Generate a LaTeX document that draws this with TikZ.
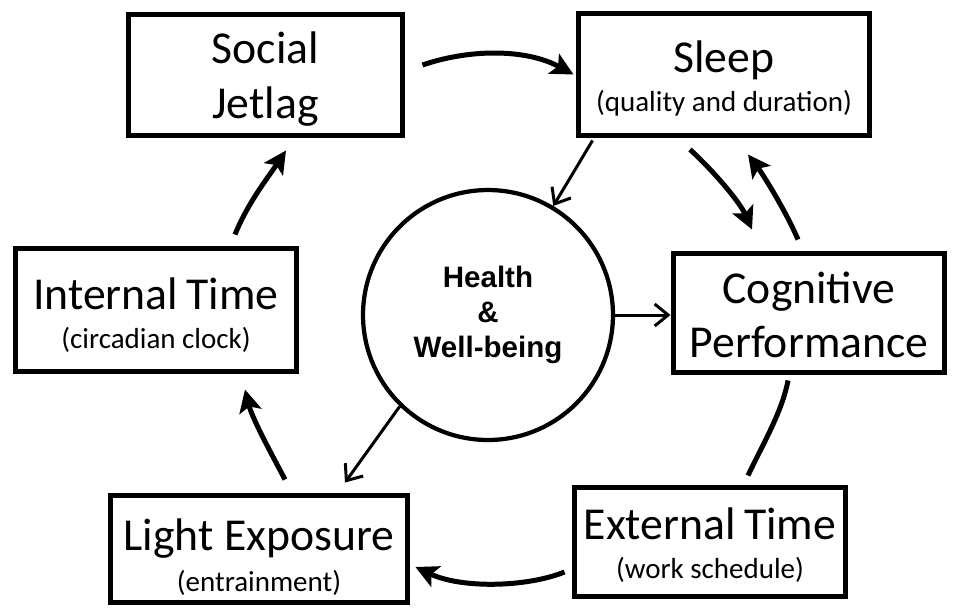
\documentclass[tikz,border=0pt]{standalone}
\usepackage{fontspec}
\setmainfont{Carlito}
\newfontfamily\hwfont{Liberation Sans}
\usetikzlibrary{arrows.meta,calc}

\tikzset{
  box/.style={draw, line width=0.1cm, rectangle, inner sep=0pt},
  boxtext/.style={align=center, inner sep=0pt, font=\fontsize{26}{31}\selectfont},
  hub/.style={draw, line width=0.085cm, circle, align=center, inner sep=0pt,
    minimum size=5cm, font=\hwfont\bfseries\fontsize{16.8}{20}\selectfont},
  bigarrow/.style={line width=0.1cm, -{Stealth[length=0.45cm,width=0.45cm,inset=0.1cm]}},
  thinarrow/.style={line width=0.06cm, -{Straight Barb[length=0.27cm,width=0.44cm]}},
  plainline/.style={line width=0.1cm},
}
\newcommand{\subtxt}[1]{{\fontsize{16.5}{20}\selectfont #1}}

\begin{document}
\begin{tikzpicture}[x=0.02cm, y=-0.02cm]
  \useasboundingbox (0,0) rectangle (954,609);

  % boxes around the cycle
  \node[box, minimum width=5.50cm, minimum height=2.44cm] (sj) at (265.5,75) {};
  \node[box, minimum width=5.84cm, minimum height=2.46cm] (sleep) at (724,74.5) {};
  \node[box, minimum width=5.64cm, minimum height=2.48cm] (it) at (156,310) {};
  \node[box, minimum width=5.44cm, minimum height=2.40cm] (cog) at (809,313) {};
  \node[box, minimum width=5.96cm, minimum height=2.16cm] (le) at (259,549) {};
  \node[box, minimum width=5.44cm, minimum height=2.20cm] (et) at (710,542) {};

  % their labels
  \node[boxtext] (sj-t) at ($(sj)+(0,4)$) {Social\\Jetlag};
  \node[boxtext] (sleep-t) at ($(sleep)+(0,4)$) {Sleep\\[-9pt]\subtxt{(quality and duration)}};
  \node[boxtext] (it-t) at ($(it)+(0,5)$) {Internal\kern-1pt\ Time\\[-9pt]\subtxt{(circadian clock)}};
  \node[boxtext] (cog-t) at ($(cog)+(0,2)$) {Cognitive\\Performance};
  \node[boxtext] (le-t) at ($(le)+(0,8)$) {Light Exposure\\[-8pt]\subtxt{(entrainment)}};
  \node[boxtext] (et-t) at ($(et)+(0,3)$) {External\kern-1pt\ Time\\[-9pt]\subtxt{(work schedule)}};

  % central hub
  \node[hub] (hw) at (488,315) {Health\\\&\\Well-being};

  % cycle arrows
  \draw[bigarrow] ($(sj.east)+(17,-10)$) .. controls +(50,-17) and +(-46,-25) .. ($(sleep.west)+(-2,0)$);
  \draw[bigarrow] ($(sleep.south)+(-34,11)$) .. controls +(25,23) and +(-12,-27) .. ($(cog.north)+(-57,-21)$);
  \draw[bigarrow] ($(cog.north)+(-11,-11)$) .. controls +(-13,-30) and +(15,20) .. ($(sleep.south)+(24,16)$);
  \draw[plainline] ($(cog.south)+(-21,5)$) .. controls +(-6,32) and +(14,-30) .. ($(et.north)+(38,-9)$);
  \draw[bigarrow] ($(et.west)+(-7,30)$) .. controls +(-37,15) and +(47,22) .. ($(le.east)+(5,18)$);
  \draw[bigarrow] ($(le.north)+(26,-13)$) .. controls +(-17,-32) and +(7,28) .. ($(it.south)+(89,15)$);
  \draw[bigarrow] ($(it.north)+(79,-11)$) .. controls +(13,-32) and +(-18,27) .. ($(sj.south)+(20.5,12)$);

  % links with the hub
  \draw[thinarrow] ($(sleep.south west)+(17,2)$) -- (hw);
  \draw[thinarrow] (hw.east) -- (hw.east -| cog.west);
  \draw[thinarrow] (hw.226) -- ($(le.north)+(86,-10)$);
\end{tikzpicture}
\end{document}
